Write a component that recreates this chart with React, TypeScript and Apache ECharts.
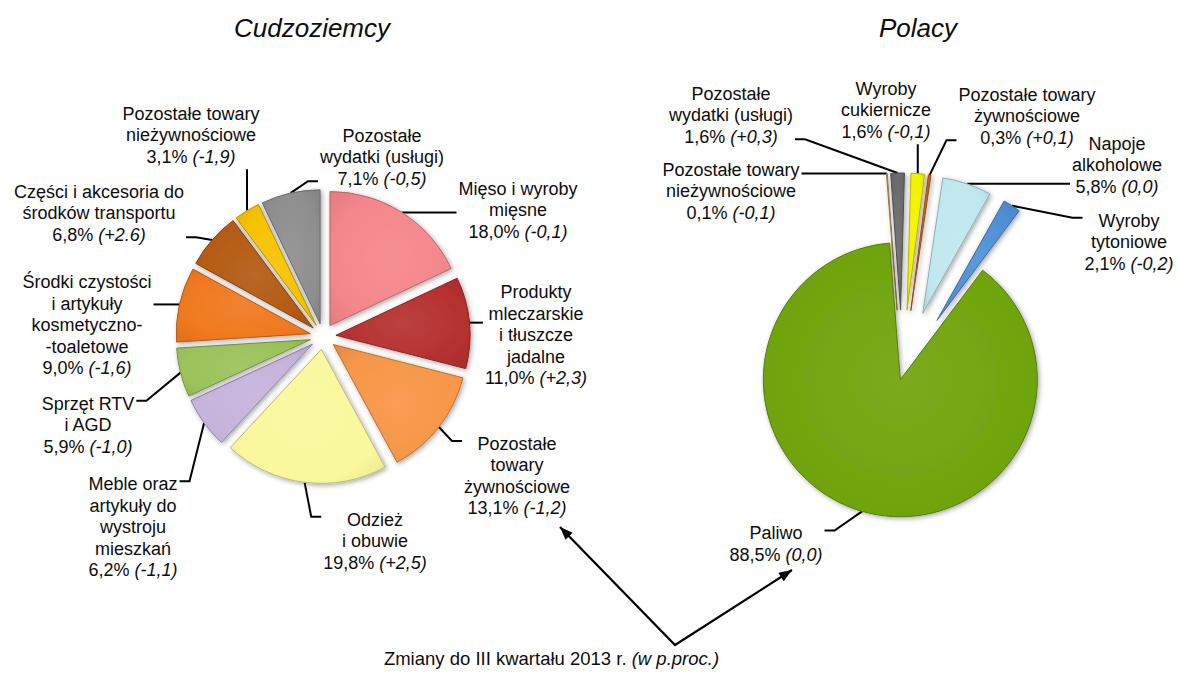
import React, { useEffect, useRef } from 'react';
import * as echarts from 'echarts';

// ---------- data ----------
const foreignNames = [
  'Mięso i wyroby\nmięsne',
  'Produkty\nmleczarskie\ni tłuszcze\njadalne',
  'Pozostałe\ntowary\nżywnościowe',
  'Odzież\ni obuwie',
  'Meble oraz\nartykuły do\nwystroju\nmieszkań',
  'Sprzęt RTV\ni AGD',
  'Środki czystości\ni artykuły\nkosmetyczno-\n-toaletowe',
  'Części i akcesoria do\nśrodków transportu',
  'Pozostałe towary\nnieżywnościowe',
  'Pozostałe\nwydatki (usługi)',
];
const foreignShares = [18.0, 11.0, 13.1, 19.8, 6.2, 5.9, 9.0, 6.8, 3.1, 7.1];
const foreignChanges = ['-0,1', '+2,3', '-1,2', '+2,5', '-1,1', '-1,0', '-1,6', '+2.6', '-1,9', '-0,5'];

const polishNames = [
  'Pozostałe towary\nnieżywnościowe',
  'Pozostałe\nwydatki (usługi)',
  'Wyroby\ncukiernicze',
  'Pozostałe towary\nżywnościowe',
  'Napoje\nalkoholowe',
  'Wyroby\ntytoniowe',
  'Paliwo',
];
const polishShares = [0.1, 1.6, 1.6, 0.3, 5.8, 2.1, 88.5];
const polishChanges = ['-0,1', '+0,3', '-0,1', '+0,1', '0,0', '-0,2', '0,0'];

const titleLeft = 'Cudzoziemcy';
const titleRight = 'Polacy';
const noteText = 'Zmiany do III kwartału 2013 r.';
const noteItalic = '(w p.proc.)';

// ---------- styles / positions ----------
const foreignColors = ['#F4868B', '#B5302F', '#F79646', '#F9F89C', '#C5B3DB', '#9BC25A', '#F0781E', '#B45A12', '#F5C200', '#8E8E8E'];
const polishColors = ['#C9A45A', '#6A6A6A', '#F2F200', '#C8651E', '#BFE8EE', '#4F8FD6', '#6FA40C'];

const foreignLabelPos = [[518, 210], [536, 335], [517, 476], [375, 541], [133, 527], [88, 425], [87, 325], [99, 213], [191, 135], [382, 157]];
const polishLabelPos = [[731, 191], [731, 115], [886, 110], [1027, 116], [1117, 165], [1129, 242], [776, 544]];

const foreignGeo = { cx: 323, cy: 336.5, r: 134, startAngle: 90, offsets: [13, 13, 13, 13, 13, 13, 13, 13, 13, 13] };
const polishGeo = { cx: 902, cy: 374, r: 137, startAngle: 94.5, offsets: [64, 64, 64, 64, 64, 64, 6] };

const FONT = '"Liberation Sans", Arial, Helvetica, sans-serif';
const FS = 18;
const LH = 21.5;
const TXT = '#0d0d0d';

function hexToRgb(h: string) {
  const n = parseInt(h.slice(1), 16);
  return [(n >> 16) & 255, (n >> 8) & 255, n & 255];
}
function mix(hex: string, target: number, t: number) {
  const c = hexToRgb(hex).map((v) => Math.round(v + (target - v) * t));
  return `rgb(${c[0]},${c[1]},${c[2]})`;
}

function sliceStyle(color: string) {
  return {
    color: {
      type: 'radial',
      x: 0.5,
      y: 0.5,
      r: 0.75,
      colorStops: [
        { offset: 0, color: mix(color, 255, 0.08) },
        { offset: 0.65, color: color },
        { offset: 1, color: mix(color, 0, 0.1) },
      ],
    },
    borderColor: mix(color, 0, 0.25),
    borderWidth: 1,
    shadowBlur: 5,
    shadowColor: 'rgba(0,0,0,0.35)',
    shadowOffsetX: 1.5,
    shadowOffsetY: 1.5,
  };
}

function fmtShare(v: number) {
  return v.toFixed(1).replace('.', ',') + '%';
}

function leader(ax: number, ay: number, lx: number, ly: number, w: number, h: number) {
  const L = lx - w / 2, R = lx + w / 2, T = ly - h / 2, B = ly + h / 2;
  const clamp = (v: number, a: number, b: number) => Math.max(a, Math.min(b, v));
  if (ax < L) {
    const y = clamp(ay, T + 8, B - 8);
    return [[ax, ay], [L - 12, y], [L - 2, y]];
  }
  if (ax > R) {
    const y = clamp(ay, T + 8, B - 8);
    return [[ax, ay], [R + 12, y], [R + 2, y]];
  }
  if (ay > B) return [[ax, ay], [ax, B + 8], [ax, B + 2]];
  return [[ax, ay], [ax, T - 8], [ax, T - 2]];
}

function buildPie(names: string[], shares: number[], changes: string[], colors: string[], labelPos: number[][], geo: any) {
  const total = shares.reduce((a, b) => a + b, 0);
  const theta0 = 90 - geo.startAngle;
  let cum = 0;
  const series: any[] = [];
  shares.forEach((v, i) => {
    const mid = theta0 + ((cum + v / 2) / total) * 360;
    cum += v;
    const rad = (mid * Math.PI) / 180;
    const sx = Math.sin(rad);
    const sy = -Math.cos(rad);
    const off = geo.offsets[i];
    const ccx = geo.cx + off * sx;
    const ccy = geo.cy + off * sy;
    const ax = ccx + geo.r * sx;
    const ay = ccy + geo.r * sy;
    const [lx, ly] = labelPos[i];
    series.push({
      type: 'pie',
      silent: true,
      animation: false,
      avoidLabelOverlap: false,
      center: [ccx, ccy],
      radius: geo.r,
      startAngle: geo.startAngle,
      clockwise: true,
      minAngle: 0,
      label: { show: false },
      labelLine: { show: false },
      data: shares.map((val, j) =>
        j === i
          ? {
              value: val,
              name: names[j],
              itemStyle: sliceStyle(colors[j]),
              label: {
                show: true,
                position: 'outside',
                overflow: 'none',
                formatter: `${names[j]}\n${fmtShare(val)} {i|(${changes[j]})}`,
                fontSize: FS,
                lineHeight: LH,
                fontFamily: FONT,
                color: TXT,
                rich: {
                  i: { fontStyle: 'italic', fontSize: FS, lineHeight: LH, fontFamily: FONT, color: TXT },
                },
              },
              labelLine: { show: true, length: 10, length2: 10, lineStyle: { color: '#000', width: 2 } },
            }
          : {
              value: val,
              name: names[j],
              itemStyle: { color: 'rgba(0,0,0,0)', borderWidth: 0, shadowBlur: 0 },
              label: { show: false },
              labelLine: { show: false },
            }
      ),
      labelLayout: (p: any) => {
        if (p.dataIndex !== i) return {};
        const w = p.labelRect.width;
        const h = p.labelRect.height;
        return {
          x: lx,
          y: ly,
          align: 'center',
          verticalAlign: 'middle',
          labelLinePoints: leader(ax, ay, lx, ly, w, h),
        };
      },
    });
  });
  return series;
}

function arrowHead(tip: number[], from: number[], len = 13, half = 5) {
  const dx = tip[0] - from[0];
  const dy = tip[1] - from[1];
  const d = Math.hypot(dx, dy);
  const ux = dx / d, uy = dy / d;
  const bx = tip[0] - ux * len, by = tip[1] - uy * len;
  return [tip, [bx - uy * half, by + ux * half], [bx + uy * half, by - ux * half]];
}

export default function App() {
  const ref = useRef<HTMLDivElement>(null);
  useEffect(() => {
    if (!ref.current) return;
    const chart = echarts.init(ref.current, null, { renderer: 'svg' });
    const vertex = [675, 645];
    const tipL = [560, 527];
    const tipR = [792, 570];
    const option: any = {
      animation: false,
      backgroundColor: '#ffffff',
      series: [
        ...buildPie(foreignNames, foreignShares, foreignChanges, foreignColors, foreignLabelPos, foreignGeo),
        ...buildPie(polishNames, polishShares, polishChanges, polishColors, polishLabelPos, polishGeo),
      ],
      graphic: [
        {
          type: 'text',
          x: 312,
          y: 28,
          style: { text: titleLeft, fontSize: 26, fontStyle: 'italic', fontFamily: FONT, fill: TXT, align: 'center', verticalAlign: 'middle' },
        },
        {
          type: 'text',
          x: 918,
          y: 28,
          style: { text: titleRight, fontSize: 26, fontStyle: 'italic', fontFamily: FONT, fill: TXT, align: 'center', verticalAlign: 'middle' },
        },
        {
          type: 'polyline',
          shape: { points: [tipL, vertex, tipR] },
          style: { stroke: '#000', lineWidth: 2.2, fill: null },
        },
        { type: 'polygon', shape: { points: arrowHead(tipL, vertex) }, style: { fill: '#000' } },
        { type: 'polygon', shape: { points: arrowHead(tipR, vertex) }, style: { fill: '#000' } },
        {
          type: 'text',
          x: 551.5,
          y: 658,
          style: {
            text: `${noteText} {i|${noteItalic}}`,
            fontSize: 18.5,
            fontFamily: FONT,
            fill: TXT,
            align: 'center',
            verticalAlign: 'middle',
            rich: { i: { fontStyle: 'italic', fontSize: 18.5, fontFamily: FONT, fill: TXT } },
          },
        },
      ],
    };
    chart.setOption(option);
    return () => chart.dispose();
  }, []);
  return <div ref={ref} style={{ position: 'absolute', left: 0, top: 0, width: 1179, height: 675 }} />;
}
